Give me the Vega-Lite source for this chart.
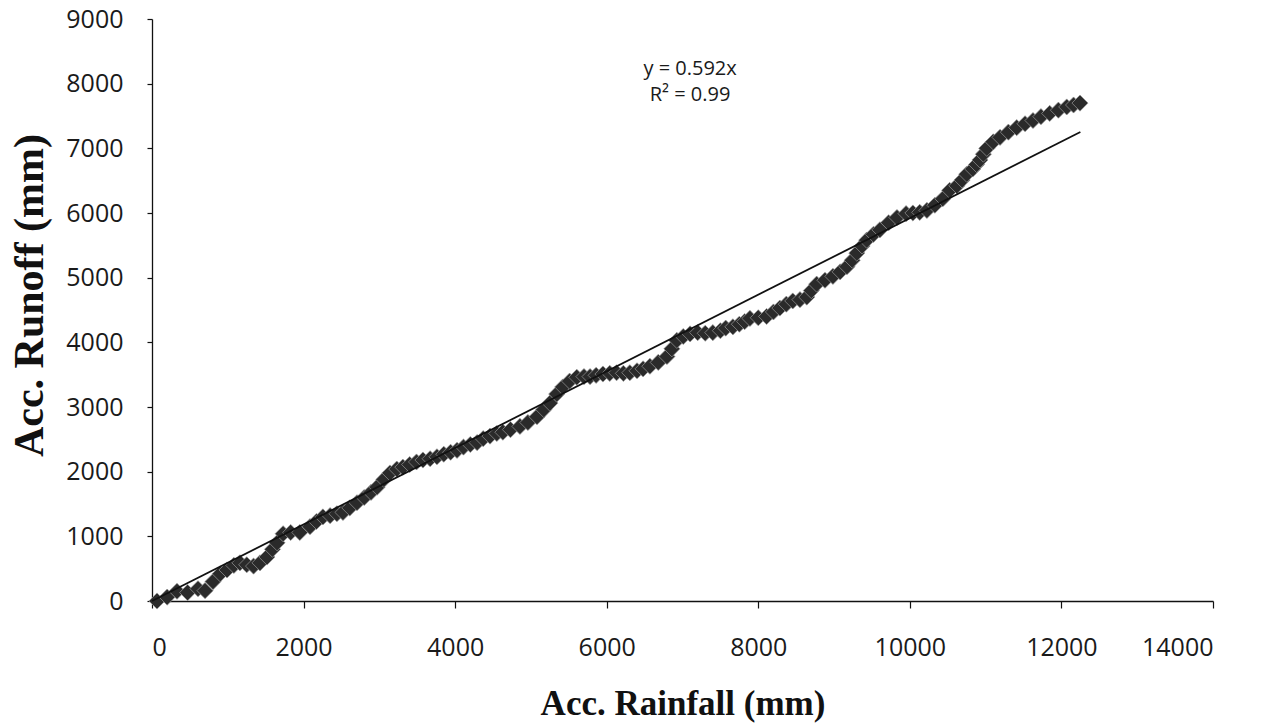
{
  "$schema": "https://vega.github.io/schema/vega-lite/v6.json",
  "autosize": {"type": "none"},
  "padding": {"left": 152, "top": 19, "right": 48, "bottom": 124},
  "width": 1061,
  "height": 582,
  "background": "white",
  "config": {
    "view": {"stroke": null},
    "axis": {
      "grid": false,
      "domainColor": "#111",
      "domainWidth": 1.3,
      "tickColor": "#111",
      "tickWidth": 1.2,
      "labelFont": "Open Sans",
      "labelFontSize": 25,
      "labelColor": "#1a1a1a",
      "titleFont": "Liberation Serif",
      "titleFontWeight": "bold",
      "titleColor": "#111"
    }
  },
  "datasets": {
    "obs": [
      {"rain": 66, "runoff": 0}, {"rain": 200, "runoff": 60}, {"rain": 330, "runoff": 150},
      {"rain": 470, "runoff": 130}, {"rain": 607, "runoff": 190}, {"rain": 700, "runoff": 160},
      {"rain": 805, "runoff": 300}, {"rain": 900, "runoff": 420}, {"rain": 990, "runoff": 480},
      {"rain": 1080, "runoff": 550}, {"rain": 1160, "runoff": 590}, {"rain": 1250, "runoff": 560},
      {"rain": 1340, "runoff": 540}, {"rain": 1425, "runoff": 590}, {"rain": 1517, "runoff": 680},
      {"rain": 1590, "runoff": 800}, {"rain": 1650, "runoff": 900}, {"rain": 1730, "runoff": 1040},
      {"rain": 1830, "runoff": 1060}, {"rain": 1950, "runoff": 1060}, {"rain": 2085, "runoff": 1150},
      {"rain": 2170, "runoff": 1230}, {"rain": 2255, "runoff": 1300}, {"rain": 2350, "runoff": 1320},
      {"rain": 2440, "runoff": 1350}, {"rain": 2520, "runoff": 1370}, {"rain": 2610, "runoff": 1440},
      {"rain": 2705, "runoff": 1520}, {"rain": 2800, "runoff": 1600}, {"rain": 2890, "runoff": 1680},
      {"rain": 2970, "runoff": 1760}, {"rain": 3060, "runoff": 1880}, {"rain": 3140, "runoff": 1980},
      {"rain": 3230, "runoff": 2040}, {"rain": 3310, "runoff": 2070}, {"rain": 3400, "runoff": 2110},
      {"rain": 3490, "runoff": 2150}, {"rain": 3575, "runoff": 2180}, {"rain": 3670, "runoff": 2200},
      {"rain": 3760, "runoff": 2230}, {"rain": 3850, "runoff": 2270}, {"rain": 3940, "runoff": 2300},
      {"rain": 4025, "runoff": 2330}, {"rain": 4110, "runoff": 2380}, {"rain": 4200, "runoff": 2420},
      {"rain": 4290, "runoff": 2450}, {"rain": 4370, "runoff": 2510}, {"rain": 4460, "runoff": 2550},
      {"rain": 4550, "runoff": 2590}, {"rain": 4630, "runoff": 2610}, {"rain": 4730, "runoff": 2650},
      {"rain": 4855, "runoff": 2700}, {"rain": 4960, "runoff": 2760}, {"rain": 5080, "runoff": 2850},
      {"rain": 5170, "runoff": 2960}, {"rain": 5250, "runoff": 3060}, {"rain": 5340, "runoff": 3200},
      {"rain": 5420, "runoff": 3310}, {"rain": 5510, "runoff": 3400}, {"rain": 5605, "runoff": 3460},
      {"rain": 5700, "runoff": 3470}, {"rain": 5780, "runoff": 3470}, {"rain": 5860, "runoff": 3490},
      {"rain": 5950, "runoff": 3510}, {"rain": 6040, "runoff": 3520}, {"rain": 6130, "runoff": 3530},
      {"rain": 6220, "runoff": 3520}, {"rain": 6305, "runoff": 3530}, {"rain": 6400, "runoff": 3560},
      {"rain": 6480, "runoff": 3590}, {"rain": 6570, "runoff": 3630}, {"rain": 6680, "runoff": 3690},
      {"rain": 6795, "runoff": 3780}, {"rain": 6860, "runoff": 3900}, {"rain": 6925, "runoff": 4030},
      {"rain": 7010, "runoff": 4090}, {"rain": 7100, "runoff": 4130}, {"rain": 7200, "runoff": 4150},
      {"rain": 7300, "runoff": 4140}, {"rain": 7400, "runoff": 4150}, {"rain": 7500, "runoff": 4180},
      {"rain": 7570, "runoff": 4220}, {"rain": 7665, "runoff": 4240}, {"rain": 7750, "runoff": 4280},
      {"rain": 7820, "runoff": 4320}, {"rain": 7890, "runoff": 4370}, {"rain": 8000, "runoff": 4380},
      {"rain": 8110, "runoff": 4400}, {"rain": 8200, "runoff": 4470}, {"rain": 8285, "runoff": 4530},
      {"rain": 8370, "runoff": 4590}, {"rain": 8455, "runoff": 4640}, {"rain": 8550, "runoff": 4660},
      {"rain": 8640, "runoff": 4700}, {"rain": 8700, "runoff": 4800}, {"rain": 8770, "runoff": 4900},
      {"rain": 8880, "runoff": 4960}, {"rain": 8985, "runoff": 5020}, {"rain": 9080, "runoff": 5090},
      {"rain": 9170, "runoff": 5170}, {"rain": 9240, "runoff": 5270}, {"rain": 9300, "runoff": 5380},
      {"rain": 9370, "runoff": 5490}, {"rain": 9430, "runoff": 5580}, {"rain": 9520, "runoff": 5670},
      {"rain": 9605, "runoff": 5740}, {"rain": 9720, "runoff": 5850}, {"rain": 9830, "runoff": 5930},
      {"rain": 9950, "runoff": 5990}, {"rain": 10040, "runoff": 6000}, {"rain": 10130, "runoff": 6010},
      {"rain": 10225, "runoff": 6040}, {"rain": 10330, "runoff": 6120}, {"rain": 10435, "runoff": 6220},
      {"rain": 10525, "runoff": 6350}, {"rain": 10620, "runoff": 6420}, {"rain": 10690, "runoff": 6510},
      {"rain": 10750, "runoff": 6600}, {"rain": 10830, "runoff": 6680}, {"rain": 10880, "runoff": 6750},
      {"rain": 10925, "runoff": 6820}, {"rain": 10970, "runoff": 6910}, {"rain": 11015, "runoff": 7000},
      {"rain": 11100, "runoff": 7100}, {"rain": 11190, "runoff": 7170}, {"rain": 11300, "runoff": 7250},
      {"rain": 11410, "runoff": 7320}, {"rain": 11520, "runoff": 7380}, {"rain": 11625, "runoff": 7430},
      {"rain": 11730, "runoff": 7490}, {"rain": 11845, "runoff": 7540}, {"rain": 11960, "runoff": 7590},
      {"rain": 12070, "runoff": 7640}, {"rain": 12160, "runoff": 7670}, {"rain": 12245, "runoff": 7700}
    ],
    "trend": [
      {"rain": 0, "runoff": 0},
      {"rain": 12250, "runoff": 7252}
    ],
    "label": [
      {"rain": 7100, "runoff": 8220, "txt": "y = 0.592x"},
      {"rain": 7100, "runoff": 7820, "txt": "R² = 0.99"}
    ]
  },
  "encoding": {
    "x": {
      "field": "rain", "type": "quantitative",
      "scale": {"domain": [0, 14000], "nice": false},
      "axis": {
        "title": "Acc. Rainfall (mm)",
        "titleFontSize": 35,
        "titlePadding": 26,
        "values": [0, 2000, 4000, 6000, 8000, 10000, 12000, 14000],
        "format": "d",
        "tickSize": 7,
        "labelPadding": 27
      }
    },
    "y": {
      "field": "runoff", "type": "quantitative",
      "scale": {"domain": [0, 9000], "nice": false},
      "axis": {
        "title": "Acc. Runoff (mm)",
        "titleFontSize": 42,
        "titlePadding": 14,
        "titleY": 276,
        "values": [0, 1000, 2000, 3000, 4000, 5000, 6000, 7000, 8000, 9000],
        "format": "d",
        "tickSize": 5,
        "labelPadding": 24
      }
    }
  },
  "layer": [
    {
      "data": {"name": "obs"},
      "mark": {
        "type": "point",
        "shape": "diamond",
        "filled": true,
        "size": 260,
        "fill": "#2a2a2a",
        "stroke": "#9a9a9a",
        "strokeWidth": 0.7,
        "opacity": 1
      }
    },
    {
      "data": {"name": "trend"},
      "mark": {"type": "line", "color": "#111", "strokeWidth": 1.8}
    },
    {
      "data": {"name": "label"},
      "mark": {
        "type": "text",
        "font": "Open Sans",
        "fontSize": 20,
        "color": "#1a1a1a",
        "align": "center",
        "baseline": "middle"
      },
      "encoding": {"text": {"field": "txt"}}
    }
  ]
}
